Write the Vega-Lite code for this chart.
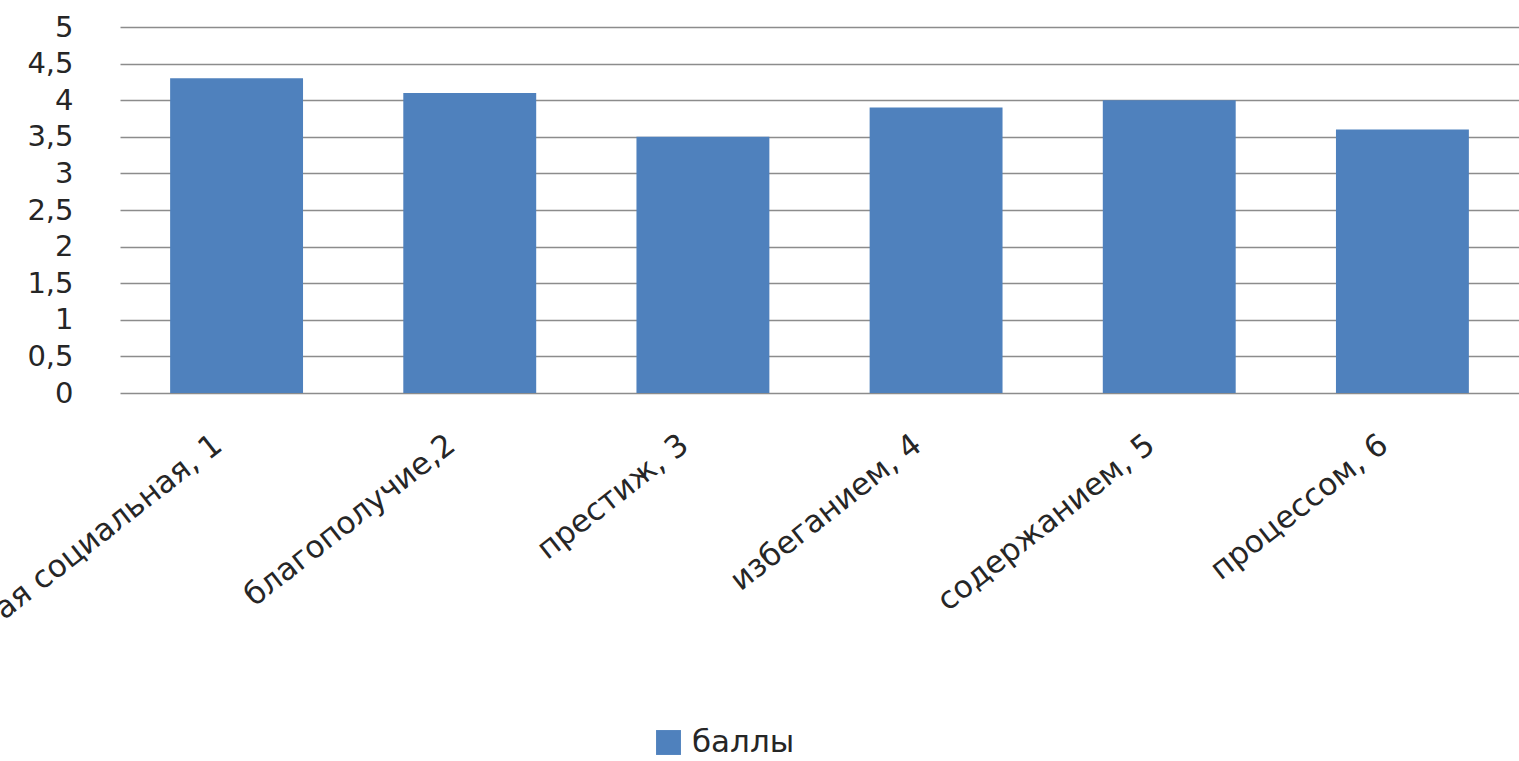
{
  "$schema": "https://vega.github.io/schema/vega-lite/v6.json",
  "autosize": "none",
  "width": 1399,
  "height": 366,
  "padding": {"left": 120, "top": 27, "right": 0, "bottom": 368},
  "background": "white",
  "data": {
    "values": [
      {"category": "ая социальная, 1", "value": 4.3, "series": "баллы"},
      {"category": "благополучие,2", "value": 4.1, "series": "баллы"},
      {"category": "престиж, 3", "value": 3.5, "series": "баллы"},
      {"category": "избеганием, 4", "value": 3.9, "series": "баллы"},
      {"category": "содержанием, 5", "value": 4.0, "series": "баллы"},
      {"category": "процессом, 6", "value": 3.6, "series": "баллы"}
    ]
  },
  "mark": {"type": "bar"},
  "encoding": {
    "x": {
      "field": "category",
      "type": "nominal",
      "sort": null,
      "scale": {"paddingInner": 0.43, "paddingOuter": 0.215},
      "axis": {
        "title": null,
        "domain": false,
        "ticks": false,
        "grid": false,
        "labelAngle": -38,
        "labelAlign": "right",
        "labelBaseline": "middle",
        "labelPadding": 48,
        "labelOffset": -18,
        "labelFont": "DejaVu Sans",
        "labelFontSize": 31,
        "labelColor": "#262626",
        "labelOverlap": false,
        "labelLimit": 0
      }
    },
    "y": {
      "field": "value",
      "type": "quantitative",
      "scale": {"domain": [0, 5], "nice": false},
      "axis": {
        "title": null,
        "domain": false,
        "ticks": false,
        "values": [0, 0.5, 1, 1.5, 2, 2.5, 3, 3.5, 4, 4.5, 5],
        "labelExpr": "replace(toString(datum.value), '.', ',')",
        "labelPadding": 47,
        "labelFont": "DejaVu Sans",
        "labelFontSize": 29,
        "labelColor": "#262626",
        "gridColor": "#8c8c8c",
        "gridWidth": 1.5,
        "gridOpacity": 1
      }
    },
    "color": {
      "field": "series",
      "type": "nominal",
      "scale": {"range": ["#4F81BD"]},
      "legend": {
        "title": null,
        "orient": "none",
        "legendX": 533,
        "legendY": 700,
        "symbolType": "square",
        "symbolSize": 620,
        "symbolStrokeWidth": 0,
        "labelFont": "DejaVu Sans",
        "labelFontSize": 31,
        "labelColor": "#262626",
        "labelOffset": 8
      }
    }
  },
  "config": {"view": {"stroke": null}}
}
